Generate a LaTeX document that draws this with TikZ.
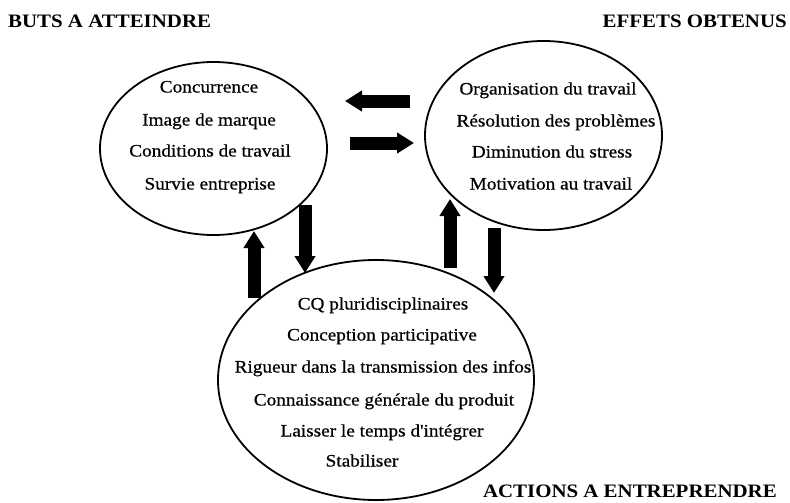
\documentclass[tikz,border=0pt]{standalone}
\usepackage{fontspec}
\setmainfont{Liberation Serif}[FakeStretch=1.1]
\newfontfamily\itemfont{Liberation Serif}[FakeStretch=1.1, FakeBold=0.6]
\usetikzlibrary{arrows.meta,shapes.geometric}
\begin{document}
\begin{tikzpicture}[x=1pt,y=-1pt,
  bubble/.style={draw, ellipse, line width=1.8pt, inner sep=0pt},
  item/.style={font=\itemfont\fontsize{17.5}{20}\selectfont, inner sep=0pt,
               text height=12pt, text depth=3pt},
  heading/.style={font=\fontsize{19}{22}\selectfont\bfseries, inner sep=0pt},
  flow/.style={line width=13pt, -{Triangle[length=17pt,width=20pt]}},
]
\useasboundingbox (0,0) rectangle (790,503);

% the three groups
\node[bubble, minimum width=227pt, minimum height=173pt] (buts)    at (213.5,148.5) {};
\node[bubble, minimum width=237pt, minimum height=189pt] (effets)  at (543.5,135.5) {};
\node[bubble, minimum width=316pt, minimum height=240pt] (actions) at (376,380) {};

% headings
\node[heading, anchor=base west] (tbuts)    at (8,28)    {BUTS A ATTEINDRE};
\node[heading, anchor=base east] (teffets)  at (787,28)  {EFFETS OBTENUS};
\node[heading, anchor=base east] (tactions) at (777,497) {ACTIONS A ENTREPRENDRE};

% goals
\node[item] (b1) at (209,88)  {Concurrence};
\node[item] (b2) at (209,121) {Image de marque};
\node[item] (b3) at (210,152) {Conditions de travail};
\node[item] (b4) at (210,185) {Survie entreprise};

% effects
\node[item] (e1) at (548,90)  {Organisation du travail};
\node[item] (e2) at (556,122) {Résolution des problèmes};
\node[item] (e3) at (552,153) {Diminution du stress};
\node[item] (e4) at (551,185) {Motivation au travail};

% actions
\node[item] (a1) at (383,305) {CQ pluridisciplinaires};
\node[item] (a2) at (382,336) {Conception participative};
\node[item] (a3) at (383,368) {Rigueur dans la transmission des infos};
\node[item] (a4) at (384,401) {Connaissance générale du produit};
\node[item] (a5) at (382,432) {Laisser le temps d'intégrer};
\node[item] (a6) at (362,462) {Stabiliser};

% end points of the block arrows
\coordinate (h1s) at (410,101);  \coordinate (h1e) at (345,101);
\coordinate (h2s) at (350,143);  \coordinate (h2e) at (414,143);
\coordinate (v1s) at (254,298);  \coordinate (v1e) at (254,231);
\coordinate (v2s) at (305,205);  \coordinate (v2e) at (305,273);
\coordinate (v3s) at (450,268);  \coordinate (v3e) at (450,199);
\coordinate (v4s) at (494,228);  \coordinate (v4e) at (494,293);

\draw[flow] (h1s) -- (h1e);
\draw[flow] (h2s) -- (h2e);
\draw[flow] (v1s) -- (v1e);
\draw[flow] (v2s) -- (v2e);
\draw[flow] (v3s) -- (v3e);
\draw[flow] (v4s) -- (v4e);
\end{tikzpicture}
\end{document}
